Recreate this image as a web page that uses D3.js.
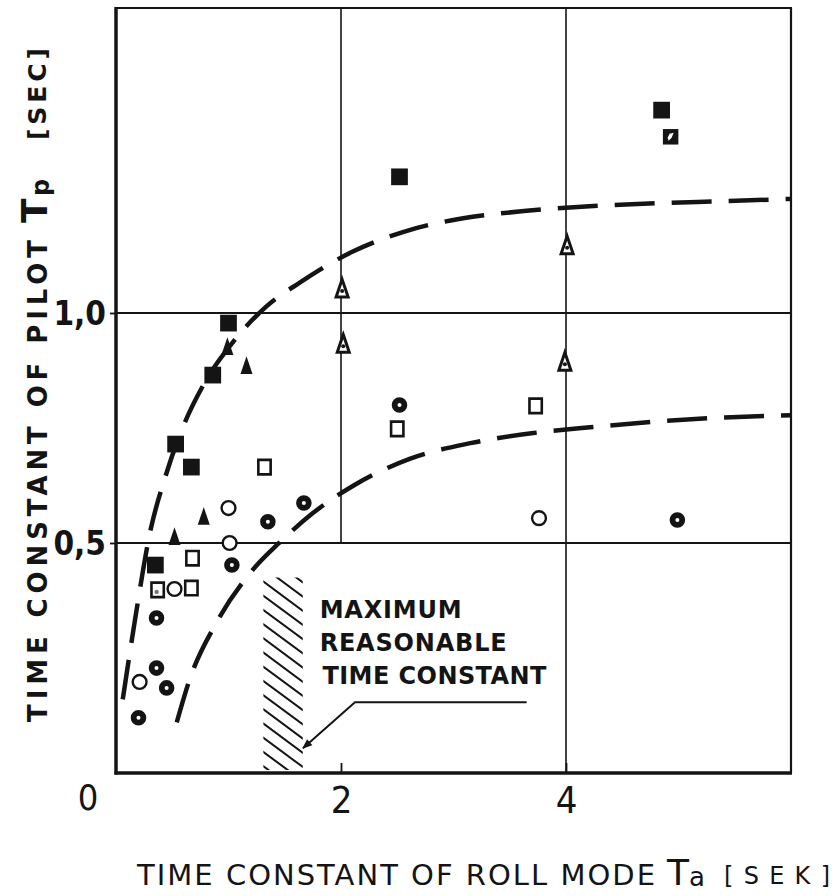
<!DOCTYPE html>
<html><head><meta charset="utf-8">
<script src="https://cdn.jsdelivr.net/npm/d3@7"></script>
<style>html,body{margin:0;padding:0;background:#fff}svg{display:block}</style>
</head><body>
<svg id="chart" width="839" height="896"></svg>
<script>
// ---------------- data ----------------
const xTicks = [2, 4];
const yTicks = [0.5, 1.0];
const xDomain = [0, 6];
const yDomain = [0, 1.663];

const filledSquares = [[1.00,0.978],[0.86,0.865],[0.53,0.715],[0.67,0.665],[2.52,1.296],[4.85,1.441],[0.35,0.452]];
const markedSquares = [[4.93,1.383]];
const openSquares   = [[1.32,0.665],[3.73,0.798],[2.50,0.748],[0.68,0.467],[0.67,0.402]];
const dotSquares    = [[0.37,0.398]];
const openCircles   = [[1.00,0.576],[1.01,0.500],[0.52,0.400],[0.21,0.198],[3.76,0.554]];
const dotCircles    = [[1.35,0.546],[1.67,0.587],[2.52,0.800],[4.99,0.550],[1.03,0.452],[0.36,0.337],[0.36,0.228],[0.45,0.185],[0.20,0.120]];
const filledTriangles = [[1.16,0.883],[0.99,0.924],[0.78,0.555],[0.52,0.511]];
const openTriangles   = [[2.01,1.050],[4.01,1.144],[2.02,0.930],[3.99,0.891]];

const upperCurve = [[0.06,0.16],[0.18,0.35],[0.30,0.52],[0.44,0.645],[0.60,0.755],[0.78,0.845],[1.05,0.94],[1.34,1.015],[1.64,1.067],[2.10,1.133],[2.55,1.176],[3.17,1.209],[3.65,1.222],[4.28,1.233],[4.84,1.239],[5.40,1.243],[6.00,1.248]];
const lowerCurve = [[0.54,0.11],[0.65,0.20],[0.90,0.33],[1.21,0.44],[1.45,0.50],[1.75,0.565],[2.12,0.626],[2.61,0.683],[3.15,0.717],[3.71,0.739],[4.24,0.752],[4.86,0.765],[5.41,0.773],[6.00,0.778]];

const hatchX = [1.31, 1.66];
const hatchY = [0, 0.425];
const leader = [[3.65,0.154],[2.124,0.154],[1.662,0.054]];
const noteLines = ["MAXIMUM", "REASONABLE", "TIME CONSTANT"];

// ---------------- drawing ----------------
const ink = "#141414";
const svg = d3.select("#chart");
const x = d3.scaleLinear().domain(xDomain).range([116, 791]);
const y = d3.scaleLinear().domain(yDomain).range([773, 8]);
const font = "'DejaVu Sans',sans-serif";
const fontC = "'DejaVu Sans Condensed','DejaVu Sans',sans-serif";

// grid lines
const gridBottom = {2: 0.5, 4: 0};
svg.append("g").selectAll("line").data(xTicks).join("line")
  .attr("x1", d => x(d)).attr("x2", d => x(d))
  .attr("y1", y(yDomain[1])).attr("y2", d => y(gridBottom[d]))
  .attr("stroke", ink).attr("stroke-width", 1.6);
svg.append("g").selectAll("line").data(yTicks).join("line")
  .attr("x1", x(0)).attr("x2", x(6))
  .attr("y1", d => y(d)).attr("y2", d => y(d))
  .attr("stroke", ink).attr("stroke-width", 1.8);

// hatch
const defs = svg.append("defs");
defs.append("clipPath").attr("id", "hclip").append("rect")
  .attr("x", x(hatchX[0])).attr("y", y(hatchY[1]))
  .attr("width", x(hatchX[1]) - x(hatchX[0])).attr("height", y(hatchY[0]) - y(hatchY[1]) - 3);
const hg = svg.append("g").attr("clip-path", "url(#hclip)");
const hx0 = x(hatchX[0]), hx1 = x(hatchX[1]);
const hTop = y(hatchY[1]), hBot = y(hatchY[0]);
for (let yy = hTop - 40; yy < hBot + 10; yy += 14.2) {
  hg.append("line").attr("x1", hx0 - 2).attr("y1", yy)
    .attr("x2", hx1 + 2).attr("y2", yy + (hx1 - hx0 + 4) * 0.74)
    .attr("stroke", ink).attr("stroke-width", 2);
}

// frame
svg.append("line").attr("x1", x(0)).attr("x2", x(0)).attr("y1", y(yDomain[1]) - 1).attr("y2", y(0) + 1.5).attr("stroke", ink).attr("stroke-width", 3.5);
svg.append("line").attr("x1", x(0) - 1.5).attr("x2", x(6) + 1).attr("y1", y(0)).attr("y2", y(0)).attr("stroke", ink).attr("stroke-width", 3.5);
svg.append("line").attr("x1", x(0)).attr("x2", x(6) + 1).attr("y1", y(yDomain[1])).attr("y2", y(yDomain[1])).attr("stroke", ink).attr("stroke-width", 2.2);
svg.append("line").attr("x1", x(6)).attr("x2", x(6)).attr("y1", y(yDomain[1])).attr("y2", y(0)).attr("stroke", ink).attr("stroke-width", 2.2);

// axes
const yAxis = d3.axisLeft(y).tickValues(yTicks).tickSize(6).tickPadding(4)
  .tickFormat(d => d3.format(".1f")(d).replace(".", ","));
const ya = svg.append("g").attr("transform", `translate(${x(0)},0)`).call(yAxis);
ya.select(".domain").remove();
ya.selectAll(".tick line").attr("stroke", ink).attr("stroke-width", 1.8);
ya.selectAll(".tick text").attr("font-family", fontC).attr("font-weight", "bold").attr("font-size", 33).attr("fill", ink).attr("dy", "0.36em");

const xAxis = d3.axisBottom(x).tickValues(xTicks).tickSizeInner(-10).tickSizeOuter(0).tickPadding(13)
  .tickFormat(d3.format("d"));
const xa = svg.append("g").attr("transform", `translate(0,${y(0)})`).call(xAxis);
xa.select(".domain").remove();
xa.selectAll(".tick line").attr("stroke", ink).attr("stroke-width", 1.8);
xa.selectAll(".tick text").attr("font-family", fontC).attr("font-size", 38).attr("fill", ink);

svg.append("text").attr("x", x(0) - 28).attr("y", y(0) + 37).attr("text-anchor", "middle")
  .attr("font-family", fontC).attr("font-size", 36).attr("fill", ink).text("0");

// dashed curves
const line = d3.line().x(d => x(d[0])).y(d => y(d[1])).curve(d3.curveMonotoneX);
[upperCurve, lowerCurve].forEach(c => {
  svg.append("path").attr("d", line(c)).attr("fill", "none").attr("stroke", ink)
    .attr("stroke-width", 4.5).attr("stroke-dasharray", "40 17");
});

// markers
const tallTriangle = { draw(ctx, size) { const h = Math.sqrt(size) * 1.25, w = Math.sqrt(size) * 0.85;
  ctx.moveTo(0, -h * 0.6); ctx.lineTo(w / 2, h * 0.4); ctx.lineTo(-w / 2, h * 0.4); ctx.closePath(); } };
const rectSym = { draw(ctx, size) { const s = Math.sqrt(size); const w = s * 0.85;
  ctx.moveTo(-w/2, -s/2); ctx.lineTo(w/2, -s/2); ctx.lineTo(w/2, s/2); ctx.lineTo(-w/2, s/2); ctx.closePath(); } };
const mk = svg.append("g");
function place(data, type, size, fill, stroke, sw) {
  return mk.append("g").selectAll("path").data(data).join("path")
    .attr("transform", d => `translate(${x(d[0])},${y(d[1])})`)
    .attr("d", d3.symbol().type(type).size(size))
    .attr("fill", fill).attr("stroke", stroke || "none").attr("stroke-width", sw || 0);
}
place(filledSquares, d3.symbolSquare, 280, ink);
place(markedSquares, d3.symbolSquare, 240, ink);
mk.append("g").selectAll("path").data(markedSquares).join("path")
  .attr("transform", d => `translate(${x(d[0])},${y(d[1])})`)
  .attr("d", "M-1,-3 L3,-4 L1,1 L-2,4 L-3,1 Z").attr("fill", "#fff");
place(openSquares, rectSym, 210, "#fff", ink, 2.6);
place(dotSquares, rectSym, 210, "#fff", ink, 2.6);
mk.append("g").selectAll("circle").data(dotSquares).join("circle")
  .attr("cx", d => x(d[0]) - 1).attr("cy", d => y(d[1]) + 2).attr("r", 2.2).attr("fill", "#777");
place(openCircles, d3.symbolCircle, 150, "#fff", ink, 2.4);
place(dotCircles, d3.symbolCircle, 190, ink);
mk.append("g").selectAll("circle").data(dotCircles).join("circle")
  .attr("cx", d => x(d[0])).attr("cy", d => y(d[1])).attr("r", 2).attr("fill", "#fff");
place(filledTriangles, tallTriangle, 200, ink);
place(openTriangles, tallTriangle, 200, "#fff", ink, 3);
mk.append("g").selectAll("circle").data(openTriangles).join("circle")
  .attr("cx", d => x(d[0])).attr("cy", d => y(d[1]) + 1).attr("r", 2).attr("fill", ink);

// leader arrow
defs.append("marker").attr("id", "arr").attr("viewBox", "0 0 10 10").attr("refX", 9).attr("refY", 5)
  .attr("markerWidth", 7).attr("markerHeight", 5).attr("orient", "auto").attr("markerUnits", "strokeWidth")
  .append("path").attr("d", "M0,1 L10,5 L0,9 Z").attr("fill", ink);
svg.append("path").attr("d", d3.line().x(d => x(d[0])).y(d => y(d[1]))(leader))
  .attr("fill", "none").attr("stroke", ink).attr("stroke-width", 2).attr("marker-end", "url(#arr)");

// annotation text
const noteX = [1.81, 1.81, 1.835];
const noteY = [0.337, 0.265, 0.193];
const noteW = [142, 187, 224];
svg.append("g").selectAll("text").data(noteLines).join("text")
  .attr("x", (d, i) => x(noteX[i])).attr("y", (d, i) => y(noteY[i]))
  .attr("textLength", (d, i) => noteW[i]).attr("lengthAdjust", "spacing")
  .attr("font-family", font).attr("font-weight", "bold")
  .attr("font-size", 24).attr("fill", ink).text(d => d);

// x axis title
const xt = svg.append("g").attr("font-family", font).attr("fill", ink);
xt.append("text").attr("x", 137).attr("y", 885).attr("font-size", 29).attr("textLength", 518).attr("lengthAdjust", "spacing").text("TIME CONSTANT OF ROLL MODE");
xt.append("text").attr("x", 667).attr("y", 885).attr("font-size", 36).text("T");
xt.append("text").attr("x", 689).attr("y", 886).attr("font-size", 26).text("a");
xt.append("text").attr("x", 724).attr("y", 884).attr("font-size", 24).attr("textLength", 106).attr("lengthAdjust", "spacing").text("[SEK]");

// y axis title (rotated)
const yt = svg.append("g").attr("transform", "translate(47,0) rotate(-90)").attr("font-family", font).attr("font-weight", "bold").attr("fill", ink);
yt.append("text").attr("x", -722).attr("y", 0).attr("font-size", 26).attr("textLength", 482).attr("lengthAdjust", "spacing").text("TIME CONSTANT OF PILOT");
yt.append("text").attr("x", -223).attr("y", 0).attr("font-size", 36).text("T");
yt.append("text").attr("x", -196).attr("y", 2).attr("font-size", 24).text("p");
yt.append("text").attr("x", -140).attr("y", -1).attr("font-size", 25).attr("textLength", 92).attr("lengthAdjust", "spacing").text("[SEC]");
</script>
</body></html>
